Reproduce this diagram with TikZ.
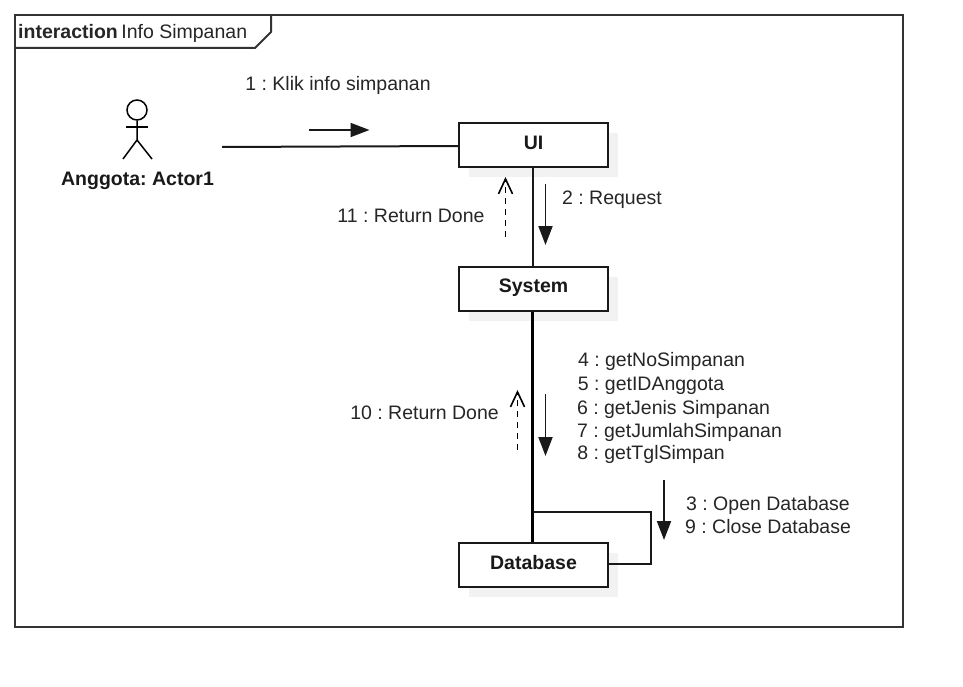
\documentclass[tikz,border=0pt]{standalone}
\usepackage{fontspec}
\setmainfont{Liberation Sans}
\usetikzlibrary{arrows.meta}
\definecolor{frameC}{HTML}{333333}
\definecolor{txtC}{HTML}{262626}
\definecolor{shadowC}{HTML}{F2F2F2}
\tikzset{
  objbox/.style={draw=black!90,line width=1.9pt,fill=white,minimum width=149pt,minimum height=44pt,inner sep=0pt},
  objtxt/.style={inner sep=0pt,font=\fontsize{19.5}{22}\selectfont\bfseries,text=black!90},
  shadowbox/.style={fill=shadowC,draw=none,minimum width=149pt,minimum height=44pt,inner sep=0pt},
  lbl/.style={font=\fontsize{19.5}{22}\selectfont,text=txtC,inner sep=0pt,anchor=center},
  lnk/.style={draw=black!90,line width=2pt},
  thicklnk/.style={draw=black,line width=3.2pt},
  msg/.style={draw=black!90,line width=1.9pt,-{Triangle[length=19pt,width=14pt]}},
  ret/.style={draw=black,line width=1.7pt,dash pattern=on 6pt off 5pt,-{Straight Barb[length=15pt,width=14pt,line width=1.6pt]}},
  actorline/.style={draw=black,line width=1.5pt}
}
\begin{document}
\frenchspacing
\begin{tikzpicture}[x=1pt,y=-1pt]
\useasboundingbox (0,0) rectangle (963,687);
\fill[white] (0,0) rectangle (963,687);
% frame
\draw[frameC,line width=2pt] (15,15) rectangle (903,627);
\draw[frameC,line width=2pt] (15,48) -- (255,48) -- (271,32) -- (271,15);
\node[inner sep=0pt,anchor=base west,font=\fontsize{19.5}{22}\selectfont,text=txtC] (title) at (18,38.5) {\textbf{interaction}\hspace{3.5pt}Info Simpanan};
% shadows
\node[shadowbox] (s1) at (543.5,155) {};
\node[shadowbox] (s2) at (543.5,299) {};
\node[shadowbox] (s3) at (543.5,575) {};
% actor
\node[draw=black,line width=1.5pt,circle,minimum size=20pt,inner sep=0pt] (head) at (137,110) {};
\coordinate (hip) at (137,140);
\coordinate (armL) at (126,127);
\coordinate (armR) at (148,127);
\coordinate (legL) at (123,159);
\coordinate (legR) at (152,159);
\draw[actorline] (head.south) -- (hip) -- (legL);
\draw[actorline] (hip) -- (legR);
\draw[actorline] (armL) -- (armR);
\node[objtxt] (actor) at (137.5,180.5) {Anggota: Actor1};
\coordinate (actorEnd) at (222,147);
\coordinate (uiEnd) at (459,146);
% boxes
\coordinate (loopA) at (651,564);
\coordinate (loopB) at (651,512);
\coordinate (loopC) at (532.5,512);
\node[objbox] (ui) at (533.5,145) {};
\node[objbox] (sys) at (533.5,289) {};
\node[objbox] (db) at (533.5,565) {};
\node[objtxt] (uit) at (533.5,143) {UI};
\node[objtxt] (syst) at (533.5,287.5) {System};
\node[objtxt] (dbt) at (533.5,563) {Database};
% links
\draw[lnk] (actorEnd) -- (uiEnd);
\draw[lnk] ([xshift=-1pt]ui.south) -- ([xshift=-1pt]sys.north);
\draw[thicklnk] ([xshift=-1pt]sys.south) -- ([xshift=-1pt]db.north);
\draw[lnk] (db.east|-loopA) -- (loopA) -- (loopB) -- (loopC);
% messages
\coordinate (m1a) at (309,130); \coordinate (m1b) at (369.5,130);
\coordinate (m2a) at (545.5,184); \coordinate (m2b) at (545.5,245);
\coordinate (m3a) at (505.5,237); \coordinate (m3b) at (505.5,177);
\coordinate (m4a) at (545.5,394); \coordinate (m4b) at (545.5,456);
\coordinate (m5a) at (517.5,450); \coordinate (m5b) at (517.5,390);
\coordinate (m6a) at (664,480); \coordinate (m6b) at (664,540);
\draw[msg] (m1a) -- (m1b);
\draw[msg] (m2a) -- (m2b);
\draw[ret] (m3a) -- (m3b);
\draw[msg] (m4a) -- (m4b);
\draw[ret] (m5a) -- (m5b);
\draw[msg] (m6a) -- (m6b);
% labels
\node[lbl] (l1) at (338,85) {1 : Klik info simpanan};
\node[lbl] (l2) at (612,199.5) {2 : Request};
\node[lbl] (l11) at (411,216) {11 : Return Done};
\node[lbl] (l10) at (424.5,413) {10 : Return Done};
\node[lbl] (l4) at (661.5,361) {4 : getNoSimpanan};
\node[lbl] (l5) at (651,385.5) {5 : getIDAnggota};
\node[lbl] (l6) at (673.5,409) {6 : getJenis Simpanan};
\node[lbl] (l7) at (679.5,432) {7 : getJumlahSimpanan};
\node[lbl] (l8) at (651,454) {8 : getTglSimpan};
\node[lbl] (l3) at (768,505) {3 : Open Database};
\node[lbl] (l9) at (768,527) {9 : Close Database};
\end{tikzpicture}
\end{document}
